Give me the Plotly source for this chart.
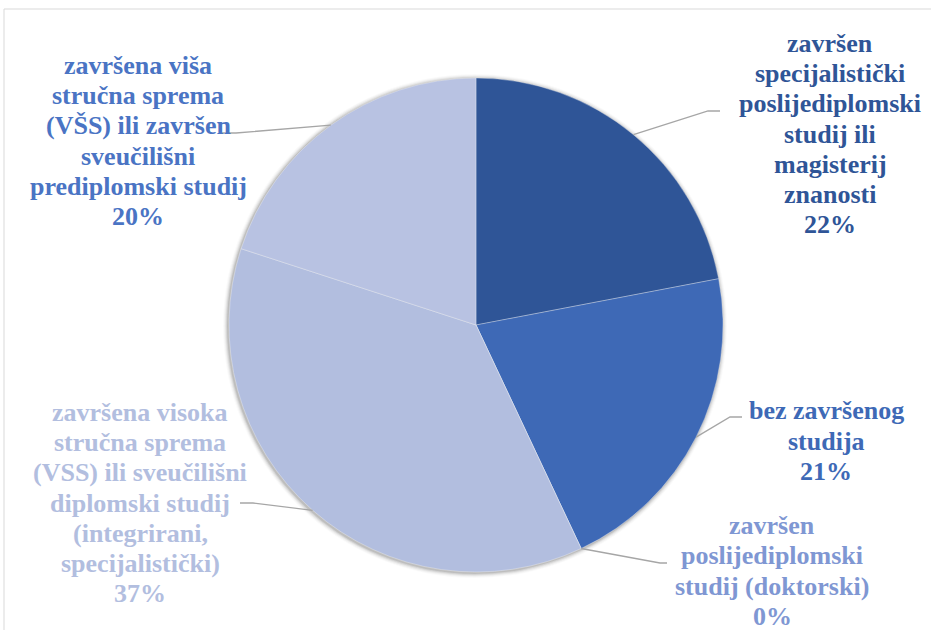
import math
import plotly.graph_objects as go

# ---------------- data ----------------
categories = [
    "završen<br>specijalistički<br>poslijediplomski<br>studij ili<br>magisterij<br>znanosti",
    "bez završenog<br>studija",
    "završen<br>poslijediplomski<br>studij (doktorski)",
    "završena visoka<br>stručna sprema<br>(VSS) ili sveučilišni<br>diplomski studij<br>(integrirani,<br>specijalistički)",
    "završena viša<br>stručna sprema<br>(VŠS) ili završen<br>sveučilišni<br>prediplomski studij",
]
values = [22, 21, 0, 37, 20]

# ---------------- style ----------------
slice_colors = ["#2F5597", "#3E69B6", "#8EA3D6", "#B2BEDF", "#B8C2E2"]
label_colors = ["#2F5597", "#3E69B6", "#7F97D3", "#B2BEDF", "#4A74C4"]
W, H = 931, 630
cx, cy, R = 476, 325, 247
FONT = "Liberation Serif"
FS = 26
LINE_H = 30.3

# label block centres (px) and leader elbow/end points (px)
label_centres = [(830, 134), (826, 441), (772, 571), (140, 503), (138, 141)]
leader_elbows = [(708, 111), (730, 417), (660, 563), (253, 503), (236, 133)]
leader_ends = [(720, 111), (742, 417), (667, 563), (240, 503), (222, 133)]


def px(x, y):
    return x / W, 1 - y / H


fig = go.Figure()
fig.add_trace(go.Pie(
    labels=[c.replace("<br>", " ") for c in categories],
    values=values,
    sort=False,
    direction="clockwise",
    rotation=0,
    textinfo="none",
    hoverinfo="label+percent",
    marker=dict(colors=slice_colors, line=dict(color="rgba(255,255,255,0.6)", width=0.5)),
    domain=dict(x=[(cx - R) / W, (cx + R) / W], y=[1 - (cy + R) / H, 1 - (cy - R) / H]),
    showlegend=False,
))

shapes = []
# soft shadow around the pie
for i, op in enumerate([0.10, 0.07, 0.05, 0.03, 0.02]):
    rr = R + 1 + i
    x0, y0 = px(cx - rr - 1, cy - rr + 1)
    x1, y1 = px(cx + rr - 1, cy + rr + 1)
    shapes.append(dict(type="circle", xref="paper", yref="paper", x0=x0, x1=x1, y0=y1, y1=y0,
                       fillcolor=f"rgba(0,0,0,{op})", line=dict(width=0), layer="below"))

# chart border
bx0, by0 = px(4, 9)
shapes.append(dict(type="rect", xref="paper", yref="paper", x0=bx0, x1=1.02, y0=-0.02, y1=by0,
                   line=dict(color="#D9D9D9", width=1), fillcolor="rgba(0,0,0,0)", layer="below"))

total = sum(values)
cum = 0
annotations = []
for i, (cat, v) in enumerate(zip(categories, values)):
    mid = 2 * math.pi * (cum + v / 2) / total
    cum += v
    ax, ay = cx + R * math.sin(mid), cy - R * math.cos(mid)
    ex, ey = leader_elbows[i]
    tx, ty = leader_ends[i]
    p0, p1, p2 = px(ax, ay), px(ex, ey), px(tx, ty)
    shapes.append(dict(type="path", xref="paper", yref="paper",
                       path=f"M {p0[0]},{p0[1]} L {p1[0]},{p1[1]} L {p2[0]},{p2[1]}",
                       line=dict(color="#A6A6A6", width=1.3)))
    lines = cat.split("<br>") + [f"{round(100 * v / total)}%"]
    lx, lyc = label_centres[i]
    n = len(lines)
    for j, t in enumerate(lines):
        ly = lyc + (j - (n - 1) / 2) * LINE_H
        x, y = px(lx, ly)
        annotations.append(dict(x=x, y=y, xref="paper", yref="paper", text=f"<b>{t}</b>",
                                showarrow=False, xanchor="center", yanchor="middle",
                                font=dict(family=FONT, size=FS, color=label_colors[i])))

fig.update_layout(
    width=W, height=H,
    margin=dict(l=0, r=0, t=0, b=0),
    paper_bgcolor="white",
    plot_bgcolor="white",
    shapes=shapes,
    annotations=annotations,
    font=dict(family=FONT),
)

fig.write_html("out.html", config={"displayModeBar": False},
               post_script="document.body.style.margin='0';")
